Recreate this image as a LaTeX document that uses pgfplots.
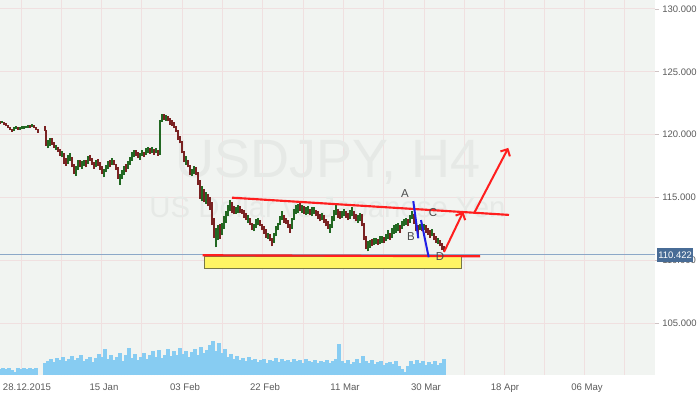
\documentclass[border=0pt]{standalone}
\usepackage{pgfplots}
\pgfplotsset{compat=1.18}
\usepackage{pgfplotstable}
\usepackage{fontspec}
\setmainfont{Liberation Sans}
\usetikzlibrary{arrows.meta}
\definecolor{bgcol}{RGB}{241,244,241}
\definecolor{gridcol}{RGB}{240,224,224}
\definecolor{cgreen}{RGB}{34,104,34}
\definecolor{cred}{RGB}{122,34,34}
\definecolor{volblue}{RGB}{135,204,242}
\definecolor{wmark}{RGB}{230,233,230}
\definecolor{lblcol}{RGB}{90,90,90}
\definecolor{pricebox}{RGB}{72,108,150}
\definecolor{priceline}{RGB}{140,168,200}
\definecolor{annred}{RGB}{255,30,30}
\definecolor{annblue}{RGB}{30,30,230}
\definecolor{boxyellow}{RGB}{255,245,100}
\definecolor{boxedge}{RGB}{120,120,70}

\pgfplotstableread{
x lo hi
0 120.85 121.05
4 120.80 121.00
6 120.65 120.90
8 120.50 120.75
10 120.35 120.60
12 120.22 120.45
18 120.40 120.60
30 120.55 120.78
34 120.55 120.75
36 120.35 120.60
38 120.15 120.45
45 120.30 120.70
46 119.10 120.40
52 119.20 119.75
54 118.95 119.40
58 118.60 119.05
60 118.30 118.85
64 117.70 118.50
66 117.50 118.10
72 117.40 118.20
74 116.90 117.70
80 117.40 118.00
86 117.40 117.95
90 117.90 118.40
92 117.60 118.10
94 117.30 117.85
98 117.50 118.05
100 117.20 117.80
102 116.90 117.50
110 117.40 117.95
114 117.55 118.00
116 117.20 117.70
118 116.50 117.40
126 117.00 117.70
136 118.30 118.75
138 118.10 118.60
144 118.20 118.65
150 118.45 118.95
154 118.40 118.85
158 118.30 118.80
164 121.20 121.60
168 121.05 121.45
170 120.80 121.30
172 120.70 121.15
174 120.50 121.00
176 120.20 120.70
178 119.60 120.40
180 119.30 119.90
182 118.50 119.50
184 117.80 118.70
188 117.40 118.00
190 116.80 117.60
196 116.80 117.40
198 116.00 117.00
200 114.90 116.40
204 114.60 115.70
208 114.30 115.30
210 114.00 115.00
212 112.80 114.60
214 111.80 113.40
220 111.70 112.90
232 113.80 114.60
234 113.65 114.30
240 113.75 114.30
242 113.70 114.10
244 113.40 114.00
246 113.20 113.80
250 112.80 113.40
252 112.40 113.00
260 112.70 113.20
262 112.40 112.90
264 112.10 112.70
266 111.80 112.50
270 111.50 112.10
272 111.10 111.80
284 113.00 113.60
286 112.90 113.40
288 112.60 113.20
290 112.20 112.90
300 113.90 114.60
304 113.70 114.30
310 113.60 114.10
316 113.50 114.00
318 113.30 113.90
320 113.10 113.70
324 113.00 113.60
326 112.70 113.30
328 112.50 113.10
338 113.40 114.10
340 113.30 113.90
346 113.40 113.90
348 113.20 113.80
354 113.30 113.90
356 113.10 113.70
362 112.70 113.70
364 111.60 113.00
366 110.87 111.90
372 111.10 111.70
378 111.20 111.70
384 111.35 111.85
390 111.60 112.20
400 112.20 112.80
408 112.70 113.30
414 112.90 113.70
416 112.30 113.10
418 112.10 112.80
422 112.30 112.80
426 112.20 112.80
428 112.00 112.60
430 111.80 112.40
434 111.60 112.20
436 111.40 111.90
440 111.10 111.60
442 110.80 111.40
444 110.70 111.10
}\downc

\pgfplotstableread{
x lo hi
2 120.90 121.05
14 120.30 120.60
16 120.45 120.70
20 120.40 120.62
22 120.42 120.65
24 120.45 120.70
26 120.50 120.72
28 120.55 120.80
32 120.60 120.82
48 118.90 119.60
50 119.10 119.70
56 118.80 119.20
62 118.20 118.70
68 117.70 118.40
70 117.90 118.55
76 116.70 117.50
78 117.20 118.00
82 117.30 117.90
84 117.50 118.00
88 117.70 118.30
96 117.40 118.00
104 116.60 117.30
106 117.00 117.60
108 117.30 117.90
112 117.60 118.10
120 116.00 116.90
122 116.50 117.20
124 116.80 117.50
128 117.30 117.90
130 117.60 118.20
132 117.90 118.60
134 118.20 118.80
140 118.00 118.50
142 118.30 118.75
146 118.40 118.90
148 118.50 119.00
152 118.50 119.00
156 118.50 118.95
160 118.40 121.20
162 121.00 121.67
166 121.10 121.55
186 117.60 118.30
192 116.70 117.30
194 116.90 117.50
202 114.70 115.90
206 114.50 115.40
216 111.03 112.60
218 111.60 112.80
222 112.00 113.00
224 112.50 113.50
226 113.00 113.90
228 113.50 114.40
230 113.90 114.80
236 113.70 114.20
238 113.80 114.40
248 113.00 113.60
254 112.30 112.90
256 112.60 113.30
258 112.80 113.40
268 111.70 112.20
274 111.40 112.20
276 111.90 112.70
278 112.40 113.00
280 112.80 113.50
282 113.20 113.90
292 112.50 113.40
294 113.20 114.10
296 113.70 114.40
298 113.80 114.50
302 113.80 114.40
306 113.60 114.20
308 113.70 114.30
312 113.50 114.20
314 113.70 114.25
322 113.20 113.80
330 112.20 112.90
332 112.60 113.50
334 113.10 114.00
336 113.60 114.40
342 113.40 113.90
344 113.50 114.10
350 113.30 114.00
352 113.50 114.20
358 113.00 113.60
360 113.10 113.80
368 110.70 111.50
370 111.00 111.60
374 111.20 111.80
376 111.30 111.80
380 111.30 111.90
382 111.40 111.90
386 111.50 112.10
388 111.70 112.40
392 111.80 112.60
394 112.10 112.80
396 112.20 112.90
398 112.30 113.00
402 112.50 113.10
404 112.70 113.30
406 112.80 113.40
410 113.00 113.60
412 113.30 113.90
420 112.40 112.90
424 112.40 112.85
432 111.90 112.50
438 111.30 111.80
}\upc

\pgfplotstableread{
x v
0 6
3 7
6 6
9 7
12 5
15 3
18 7
21 6
24 7
27 6
30 7
33 6
36 7
45 12
48 14
51 16
54 13
57 17
60 15
63 18
66 14
69 16
72 19
75 15
78 17
81 20
84 14
87 16
90 18
93 13
96 17
99 21
102 18
105 26
108 16
111 20
114 15
117 18
120 22
123 14
126 20
129 27
132 17
135 21
138 15
141 18
144 22
147 16
150 20
153 24
156 18
159 25
162 17
165 20
168 26
171 19
174 24
177 20
180 27
183 21
186 24
189 18
192 23
195 26
198 20
201 28
204 22
207 25
210 30
213 34
216 24
219 32
222 22
225 26
228 18
231 21
234 16
237 19
240 15
243 17
246 14
249 18
252 15
255 16
258 13
261 15
264 16
267 12
270 15
273 14
276 17
279 13
282 16
285 14
288 15
291 13
294 16
297 14
300 15
303 12
306 16
309 14
312 13
315 15
318 12
321 14
324 13
327 15
330 12
333 14
336 16
339 31
342 14
345 12
348 15
351 11
354 13
357 16
360 12
363 19
366 14
369 12
372 15
375 11
378 13
381 14
384 10
387 12
390 13
393 11
396 14
399 9
402 6
405 3
408 9
411 14
414 11
417 15
420 12
423 14
426 10
429 13
432 11
435 14
438 10
441 12
444 16
}\volume

\begin{document}
\begin{tikzpicture}
\useasboundingbox (0pt,0pt) rectangle (525pt,-295.5pt);
\begin{axis}[
  at={(0pt,0pt)}, anchor=north west,
  scale only axis, width=491.25pt, height=281.25pt,
  xmin=0, xmax=655, ymin=100.87, ymax=130.71,
  clip=false,
  axis line style={draw=none},
  axis background/.style={fill=bgcol},
  xmajorgrids, ymajorgrids,
  grid style={draw=gridcol, line width=0.75pt},
  xtick={21,61,101,141,182,222,262,303,343,383,424,464,504,544,584,624},
  xticklabels={},
  extra x ticks={27,104,185,265,345,426,505,587},
  extra x tick labels={28.12.2015,15 Jan,03 Feb,22 Feb,11 Mar,30 Mar,18 Apr,06 May},
  extra x tick style={grid=none},
  xtick style={draw=none},
  xticklabel style={font=\fontsize{7.2pt}{9pt}\selectfont, text=lblcol, anchor=north, yshift=0pt},
  ytick={105,110,115,120,125,130},
  yticklabels={105.000,110.000,115.000,120.000,125.000,130.000},
  ytick pos=right, yticklabel pos=right,
  tick align=outside, major tick length=3pt,
  ytick style={draw=gridcol!70!gray, line width=0.6pt},
  yticklabel style={font=\fontsize{7.1pt}{9pt}\selectfont, text=lblcol, anchor=west, xshift=-1pt},
]
% watermark
\node[font=\fontsize{40.5pt}{42pt}\selectfont, text=wmark, anchor=base] at (axis cs:328,116.59) {USDJPY, H4};
\node[font=\fontsize{22pt}{24pt}\selectfont, text=wmark, anchor=base] at (axis cs:327.5,113.41) {US Dollar vs Japanese Yen};

% price line
\addplot[priceline, line width=0.75pt] coordinates {(0,110.422) (655,110.422)};

% candles
\addplot[draw=none, mark=none, forget plot, error bars/.cd, y dir=plus, y explicit, error mark=none,
  error bar style={draw=cred, line width=0.95pt}]
  table[x=x, y=lo, y error plus expr=\thisrow{hi}-\thisrow{lo}] {\downc};
\addplot[draw=none, mark=none, forget plot, error bars/.cd, y dir=plus, y explicit, error mark=none,
  error bar style={draw=cgreen, line width=0.95pt}]
  table[x=x, y=lo, y error plus expr=\thisrow{hi}-\thisrow{lo}] {\upc};

% yellow zone
\addplot[fill=boxyellow, draw=boxedge, line width=0.6pt] coordinates {(204.3,110.34) (461.7,110.34) (461.7,109.34) (204.3,109.34)} -- cycle;
% support and resistance
\addplot[annred, line width=1.6pt] coordinates {(202.7,110.40) (480,110.32)};
\addplot[annred, line width=1.6pt] coordinates {(232,114.98) (509,113.61)};
% blue legs
\addplot[annblue, line width=1.5pt] coordinates {(413.3,114.71) (418.3,111.75)};
\addplot[annblue, line width=1.5pt] coordinates {(421,113.20) (428.7,110.24)};
% arrows
\addplot[annred, line width=1.5pt, -{Straight Barb[length=4pt,width=8pt,line width=1.5pt]}] coordinates {(444,110.66) (463.3,113.86)};
\addplot[annred, line width=1.5pt, -{Straight Barb[length=4pt,width=8pt,line width=1.5pt]}] coordinates {(474.3,113.78) (508.3,118.94)};
% letters
\node[font=\fontsize{8.6pt}{10pt}\selectfont, text=black!70] at (axis cs:405,115.31) {A};
\node[font=\fontsize{8.6pt}{10pt}\selectfont, text=black!70] at (axis cs:411,111.90) {B};
\node[font=\fontsize{8.6pt}{10pt}\selectfont, text=black!70] at (axis cs:433,113.81) {C};
\node[font=\fontsize{8.6pt}{10pt}\selectfont, text=black!70] at (axis cs:440,110.32) {D};
\coordinate (pl) at (axis cs:655,110.422);
\end{axis}
\begin{axis}[
  at={(0pt,0pt)}, anchor=north west,
  scale only axis, width=491.25pt, height=281.25pt,
  xmin=0, xmax=655, ymin=0, ymax=375,
  hide axis,
]
\addplot[ycomb, draw=volblue, line width=2.45pt] table[x=x, y=v] {\volume};
\end{axis}
\node[anchor=west, fill=pricebox, text=white, inner xsep=0.8pt, inner ysep=0pt, minimum height=10.5pt,
  font=\fontsize{7.1pt}{9pt}\selectfont] at ([xshift=1.5pt]pl) {110.422};
\end{tikzpicture}
\end{document}
